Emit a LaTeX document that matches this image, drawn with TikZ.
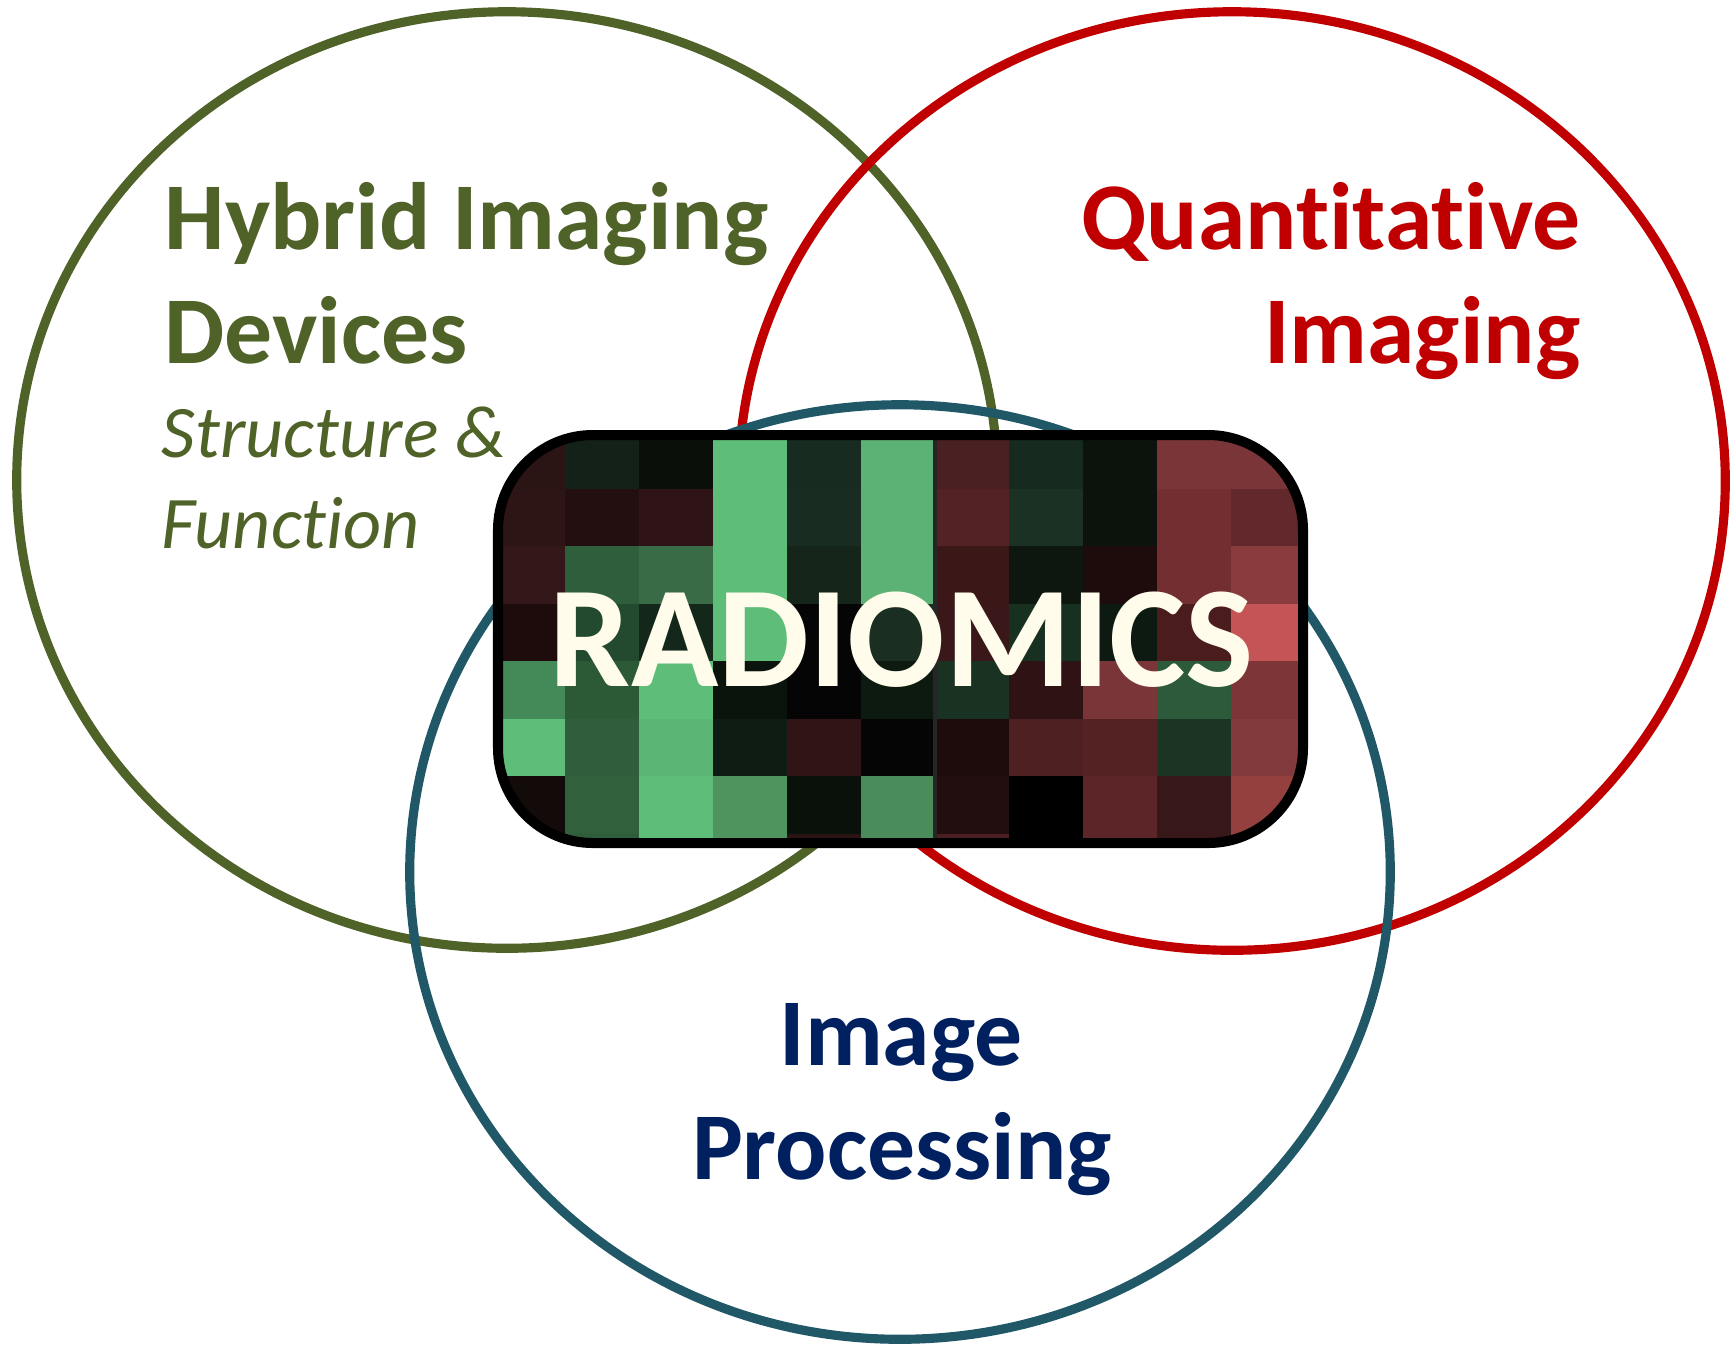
\documentclass[tikz,border=0pt]{standalone}
\usepackage{fontspec}
\setmainfont{Carlito}[Ligatures={NoCommon}]
\usepackage{tikz}
\usetikzlibrary{positioning}
\definecolor{devgreen}{HTML}{4F6228}
\definecolor{quantred}{HTML}{C00000}
\definecolor{proctea}{HTML}{215868}
\definecolor{procnavy}{HTML}{002060}
\definecolor{cream}{HTML}{FFFCEB}
\newcommand{\bigtitle}{\fontsize{27.2}{33}\selectfont\bfseries}

\begin{document}
\begin{tikzpicture}[x=0.01cm, y=-0.01cm,
    ring/.style={line width=2.6pt},
    label/.style={inner sep=0pt, font=\bigtitle}]
                  \useasboundingbox (0,0) rectangle (1736,1347);

                  % Fields
                  \draw[ring, devgreen] (507,480) ellipse [x radius=4.90cm, y radius=4.68cm];
                  \draw[ring, quantred] (1232,481) ellipse [x radius=4.93cm, y radius=4.69cm];
                  \draw[ring, proctea] (900,872) ellipse [x radius=4.90cm, y radius=4.67cm];

                  % Feature map
                  \begin{scope}
                      \clip[rounded corners=27pt] (498,435) rectangle (1303,843);
                      \foreach \cells [count=\r from 0] in {
                          {2A1414,142119,0A0F0A,5FBD7A,172B20,5CB274,4A2022,172A1F,0C130D,7A3538,7A3538},
                          {2D1415,230F10,2E1416,5FBD7A,182C21,5CB274,532224,1B3124,0C130D,732E31,62282B},
                          {341718,2F5E3C,396B47,5FBD7A,152519,5CB274,3C1718,0D170F,1E0C0D,732E31,8A3B3E},
                          {1E0C0D,234A2F,13281B,5FBD7A,050505,1A2F22,3A1718,18301F,0D1A11,4A1C1E,C45455},
                          {438A58,2C5936,5FBD7A,0A140D,050505,0C1A10,1A3222,2E1214,7A3538,2D5A3A,7D3538},
                          {5FBD7A,305E3C,5BB574,0F1C13,301416,050505,1E0C0C,4F2022,552224,1B3423,823A3C},
                          {120B09,31603C,5FBD7A,4F935F,0A100A,4A8C5A,220E0F,000000,5C2629,381719,94403F},
                          {120B09,2F5C3A,5FBD7A,4F935F,2A1414,4A8C5A,4A1F22,000000,5C2629,381719,94403F}} {
                          \foreach \hex [count=\c from 0] in \cells {
                              \definecolor{cell}{HTML}{\hex}
                              \fill[cell] (491+74*\c, 431+57.5*\r) rectangle ++(74.6,58.1);
                          }
                      }
                      \draw[line width=1.1pt, black!85] (935,431) -- (935,900);
                  \end{scope}
                  \draw[line width=2.85pt, black, rounded corners=27pt] (498,435) rectangle (1303,843);

                  % Labels
                  \node[label, anchor=base west, text=devgreen] (hybrid) at (164,249) {Hybrid Imaging};
                  \node[label, anchor=base west, text=devgreen] (devices) at (164,363) {Devices};
                  \node[inner sep=0pt, anchor=base west, text=devgreen, font=\fontsize{21.1}{26}\selectfont\itshape] (structure) at (161,457) {Structure \&};
                  \node[inner sep=0pt, anchor=base west, text=devgreen, font=\fontsize{21.1}{26}\selectfont\itshape] (function) at (161,548) {Function};
                  \node[label, anchor=base east, text=quantred] (quant) at (1581,249) {Quantitative};
                  \node[label, anchor=base east, text=quantred] (imaging) at (1581,363) {Imaging};
                  \node[inner sep=0pt, anchor=base, text=cream, font=\fontsize{41}{48}\selectfont\bfseries] (radiomics) at (902,686) {RADIOMICS};
                  \node[label, anchor=base, text=procnavy] (image) at (901,1065) {Image};
                  \node[label, anchor=base, text=procnavy] (processing) at (902,1179) {Processing};
              \end{tikzpicture}
\end{document}
